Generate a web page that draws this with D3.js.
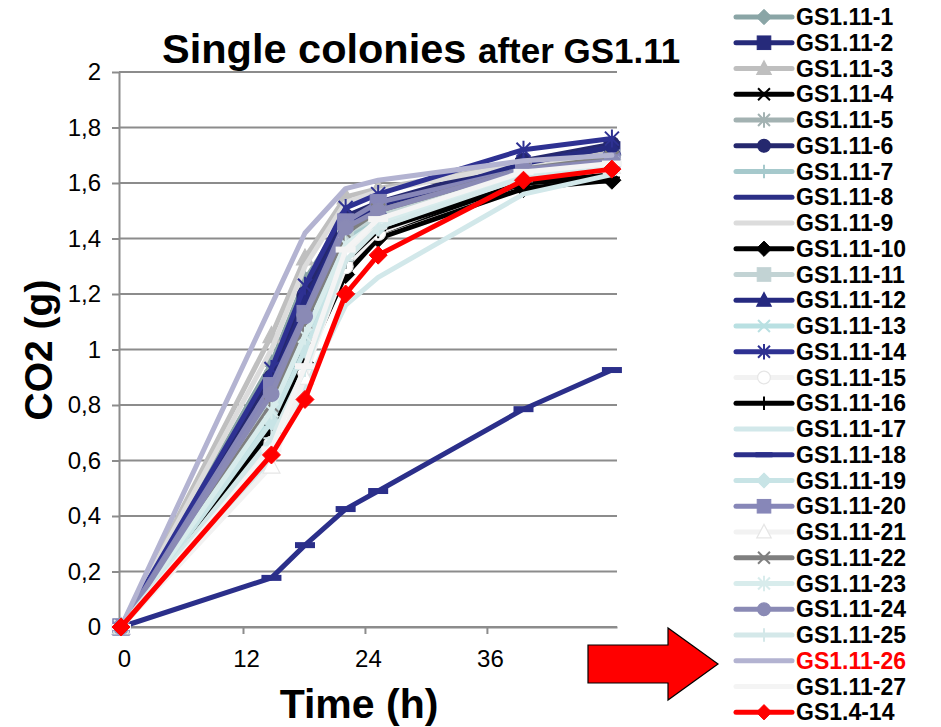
<!DOCTYPE html>
<html>
<head>
<meta charset="utf-8">
<script src="https://cdn.jsdelivr.net/npm/d3@7"></script>
<style>
  html, body { margin: 0; padding: 0; background: #ffffff; }
  svg { display: block; font-family: "Liberation Sans", Arial, Helvetica, sans-serif; }
</style>
</head>
<body>
<svg id="chart" width="941" height="727"></svg>
<script>
// Sampling times (h)
const times = [0, 14.8, 18.1, 22.1, 25.3, 39.6, 48.3];

// Cumulative CO2 released (g) per strain
const gs1_11_1  = [0, 0.95, 1.25, 1.48, 1.52, 1.66, 1.70];
const gs1_11_2  = [0, 0.88, 1.18, 1.45, 1.50, 1.66, 1.72];
const gs1_11_3  = [0, 1.05, 1.33, 1.55, 1.58, 1.67, 1.71];
const gs1_11_4  = [0, 0.72, 0.98, 1.30, 1.42, 1.60, 1.63];
const gs1_11_5  = [0, 0.90, 1.22, 1.47, 1.52, 1.66, 1.69];
const gs1_11_6  = [0, 0.90, 1.20, 1.48, 1.53, 1.68, 1.74];
const gs1_11_7  = [0, 0.80, 1.10, 1.40, 1.47, 1.64, 1.68];
const gs1_11_8  = [0, 0.85, 1.15, 1.44, 1.50, 1.67, 1.73];
const gs1_11_9  = [0, 1.00, 1.30, 1.53, 1.57, 1.67, 1.70];
const gs1_11_10 = [0, 0.70, 0.95, 1.27, 1.40, 1.58, 1.61];
const gs1_11_11 = [0, 0.82, 1.12, 1.42, 1.48, 1.65, 1.69];
const gs1_11_12 = [0, 0.87, 1.17, 1.46, 1.51, 1.67, 1.73];
const gs1_11_13 = [0, 0.76, 1.02, 1.36, 1.44, 1.62, 1.66];
const gs1_11_14 = [0, 0.93, 1.23, 1.51, 1.56, 1.72, 1.76];
const gs1_11_15 = [0, 0.66, 0.92, 1.30, 1.42, 1.62, 1.65];
const gs1_11_16 = [0, 0.73, 1.00, 1.32, 1.43, 1.60, 1.62];
const gs1_11_17 = [0, 0.60, 0.86, 1.16, 1.26, 1.56, 1.63];
const gs1_11_18 = [0, 0.177, 0.295, 0.425, 0.49, 0.785, 0.926];
const gs1_11_19 = [0, 0.74, 1.00, 1.34, 1.44, 1.63, 1.67];
const gs1_11_20 = [0, 0.87, 1.13, 1.46, 1.53, 1.65, 1.68];
const gs1_11_21 = [0, 0.58, 0.90, 1.35, 1.46, 1.63, 1.66];
const gs1_11_22 = [0, 0.80, 1.10, 1.42, 1.50, 1.65, 1.69];
const gs1_11_23 = [0, 0.78, 1.05, 1.38, 1.46, 1.63, 1.67];
const gs1_11_24 = [0, 0.84, 1.12, 1.44, 1.50, 1.65, 1.68];
const gs1_11_25 = [0, 0.68, 0.93, 1.32, 1.44, 1.62, 1.65];
const gs1_11_26 = [0, 1.16, 1.42, 1.58, 1.61, 1.68, 1.70];
const gs1_11_27 = [0, 0.64, 0.94, 1.36, 1.47, 1.64, 1.67];
const gs1_4_14  = [0, 0.62, 0.82, 1.20, 1.34, 1.61, 1.65];

const seriesNames = [
  "GS1.11-1", "GS1.11-2", "GS1.11-3", "GS1.11-4", "GS1.11-5", "GS1.11-6", "GS1.11-7",
  "GS1.11-8", "GS1.11-9", "GS1.11-10", "GS1.11-11", "GS1.11-12", "GS1.11-13", "GS1.11-14",
  "GS1.11-15", "GS1.11-16", "GS1.11-17", "GS1.11-18", "GS1.11-19", "GS1.11-20", "GS1.11-21",
  "GS1.11-22", "GS1.11-23", "GS1.11-24", "GS1.11-25", "GS1.11-26", "GS1.11-27", "GS1.4-14"
];
const seriesValues = [
  gs1_11_1, gs1_11_2, gs1_11_3, gs1_11_4, gs1_11_5, gs1_11_6, gs1_11_7,
  gs1_11_8, gs1_11_9, gs1_11_10, gs1_11_11, gs1_11_12, gs1_11_13, gs1_11_14,
  gs1_11_15, gs1_11_16, gs1_11_17, gs1_11_18, gs1_11_19, gs1_11_20, gs1_11_21,
  gs1_11_22, gs1_11_23, gs1_11_24, gs1_11_25, gs1_11_26, gs1_11_27, gs1_4_14
];
const seriesColors = [
  "#8aa5a6", "#262a7a", "#bfbfbf", "#000000", "#a3b2b2", "#25286e", "#a6c9cc",
  "#2b2f86", "#dcdcdc", "#000000", "#c2d3d4", "#262a80", "#b9e0e2", "#2e3192",
  "#f2f2f2", "#000000", "#d2e8ea", "#2b2f8a", "#c8e4e6", "#8787b8", "#f2f2f2",
  "#7f7f7f", "#d8ecec", "#8a8ab5", "#d4e8e9", "#b3b3d1", "#f4f4f4", "#ff0000"
];
const seriesMarkers = [
  "diamond", "square", "triangle", "x", "asterisk", "circle", "plus",
  "none", "none", "diamond", "square", "triangle", "x", "asterisk",
  "circle", "plus", "none", "dash", "diamond", "square", "triangle",
  "x", "asterisk", "circle", "plus", "none", "dash", "diamond"
];
const legendTextColors = seriesNames.map(n => n === "GS1.11-26" ? "#ff0000" : "#000000");

const yTicks = [0, 0.2, 0.4, 0.6, 0.8, 1, 1.2, 1.4, 1.6, 1.8, 2];
const xTicks = [0, 12, 24, 36];

const titleMain = "Single colonies";
const titleSub = "after GS1.11";
const xTitle = "Time (h)";
const yTitle = "CO2 (g)";

// ---- layout ----
const svg = d3.select("#chart");
const plotLeft = 119, plotRight = 617, plotTop = 72, plotBottom = 627;

const x = d3.scaleLinear().domain([-0.2, 48.8]).range([plotLeft, plotRight]);
const y = d3.scaleLinear().domain([0, 2]).range([plotBottom, plotTop]);

const gridColor = "#8c8c8c";
const fmtComma = v => String(+v.toFixed(1)).replace(".", ",");

// horizontal gridlines
svg.append("g")
  .selectAll("line")
  .data(yTicks)
  .join("line")
  .attr("x1", plotLeft).attr("x2", plotRight)
  .attr("y1", d => y(d)).attr("y2", d => y(d))
  .attr("stroke", gridColor).attr("stroke-width", 2);

// y axis
const yAxis = svg.append("g")
  .attr("transform", `translate(${plotLeft},0)`)
  .call(d3.axisLeft(y).tickValues(yTicks).tickFormat(fmtComma).tickSize(7).tickSizeOuter(0).tickPadding(11));
yAxis.select(".domain").attr("stroke", gridColor).attr("stroke-width", 2);
yAxis.selectAll(".tick line").attr("stroke", gridColor).attr("stroke-width", 2);
yAxis.selectAll(".tick text").attr("font-size", 24).attr("fill", "#000")
  .attr("font-family", "'Liberation Sans', Arial, sans-serif");

// x axis
const xAxis = svg.append("g")
  .attr("transform", `translate(0,${plotBottom})`)
  .call(d3.axisBottom(x).tickValues(xTicks).tickFormat(d3.format("d")).tickSize(7).tickSizeOuter(0).tickPadding(16));
xAxis.select(".domain").attr("stroke", gridColor).attr("stroke-width", 2);
xAxis.selectAll(".tick line").attr("stroke", gridColor).attr("stroke-width", 2);
xAxis.selectAll(".tick text").attr("font-size", 24).attr("fill", "#000")
  .attr("font-family", "'Liberation Sans', Arial, sans-serif")
  .attr("dx", 3);

// ---- markers ----
function drawMarker(g, type, cx, cy, color, s) {
  const k = s || 1;
  const pale = (color === "#f2f2f2" || color === "#f4f4f4");
  const fillFor = pale ? "#ffffff" : color;
  const strokeFor = pale ? "#e6e6e6" : color;
  switch (type) {
    case "diamond":
      g.append("path")
        .attr("d", `M${cx},${cy - 9 * k}L${cx + 9 * k},${cy}L${cx},${cy + 9 * k}L${cx - 9 * k},${cy}Z`)
        .attr("fill", fillFor).attr("stroke", strokeFor).attr("stroke-width", 1);
      break;
    case "square":
      g.append("rect")
        .attr("x", cx - 8 * k).attr("y", cy - 8 * k).attr("width", 16 * k).attr("height", 16 * k)
        .attr("fill", fillFor).attr("stroke", strokeFor).attr("stroke-width", 1);
      break;
    case "triangle":
      g.append("path")
        .attr("d", `M${cx},${cy - 9 * k}L${cx + 8.5 * k},${cy + 7 * k}L${cx - 8.5 * k},${cy + 7 * k}Z`)
        .attr("fill", fillFor).attr("stroke", strokeFor).attr("stroke-width", 1.2);
      break;
    case "circle":
      g.append("circle")
        .attr("cx", cx).attr("cy", cy).attr("r", 7.5 * k)
        .attr("fill", fillFor).attr("stroke", strokeFor).attr("stroke-width", 1.2);
      break;
    case "x":
      g.append("path")
        .attr("d", `M${cx - 7 * k},${cy - 7 * k}L${cx + 7 * k},${cy + 7 * k}M${cx + 7 * k},${cy - 7 * k}L${cx - 7 * k},${cy + 7 * k}`)
        .attr("stroke", color).attr("stroke-width", 2).attr("fill", "none");
      break;
    case "asterisk":
      g.append("path")
        .attr("d", `M${cx - 7 * k},${cy - 7 * k}L${cx + 7 * k},${cy + 7 * k}M${cx + 7 * k},${cy - 7 * k}L${cx - 7 * k},${cy + 7 * k}M${cx},${cy - 9 * k}L${cx},${cy + 9 * k}`)
        .attr("stroke", color).attr("stroke-width", 2).attr("fill", "none");
      break;
    case "plus":
      g.append("path")
        .attr("d", `M${cx - 8 * k},${cy}L${cx + 8 * k},${cy}M${cx},${cy - 8 * k}L${cx},${cy + 8 * k}`)
        .attr("stroke", color).attr("stroke-width", 2).attr("fill", "none");
      break;
    case "dash":
      g.append("rect")
        .attr("x", cx - 10 * k).attr("y", cy - 3 * k).attr("width", 20 * k).attr("height", 6 * k)
        .attr("fill", color);
      break;
    default:
      break;
  }
}

// ---- series ----
const line = d3.line().x((d, i) => x(times[i])).y(d => y(d));
const seriesLayer = svg.append("g");
seriesValues.forEach((vals, si) => {
  const g = seriesLayer.append("g");
  g.append("path")
    .datum(vals)
    .attr("d", line)
    .attr("fill", "none")
    .attr("stroke", seriesColors[si])
    .attr("stroke-width", 5)
    .attr("stroke-linejoin", "round")
    .attr("stroke-linecap", "round");
  vals.forEach((v, i) => drawMarker(g, seriesMarkers[si], x(times[i]), y(v), seriesColors[si]));
});

// ---- titles ----
const title = svg.append("text")
  .attr("x", 162).attr("y", 63)
  .attr("font-weight", "bold").attr("fill", "#000");
title.append("tspan").attr("font-size", 41.5).text(titleMain + " ");
title.append("tspan").attr("font-size", 35).text(titleSub);

svg.append("text")
  .attr("x", 359).attr("y", 718)
  .attr("text-anchor", "middle")
  .attr("font-weight", "bold").attr("font-size", 41).attr("fill", "#000")
  .text(xTitle);

svg.append("text")
  .attr("transform", "translate(52,350) rotate(-90)")
  .attr("text-anchor", "middle")
  .attr("font-weight", "bold").attr("font-size", 39).attr("fill", "#000")
  .text(yTitle);

// ---- legend ----
const legend = svg.append("g");
seriesNames.forEach((name, i) => {
  const cy = 17 + i * 25.75;
  const row = legend.append("g");
  row.append("line")
    .attr("x1", 736).attr("x2", 792).attr("y1", cy).attr("y2", cy)
    .attr("stroke", seriesColors[i]).attr("stroke-width", 5).attr("stroke-linecap", "round");
  drawMarker(row, seriesMarkers[i], 764, cy, seriesColors[i], 0.85);
  row.append("text")
    .attr("x", 796).attr("y", cy + 8)
    .attr("font-weight", "bold").attr("font-size", 23)
    .attr("fill", legendTextColors[i])
    .text(name);
});

// ---- pointer arrow ----
const arrowPts = [[588, 645], [668, 645], [668, 628], [718, 664], [668, 700], [668, 683], [588, 683]];
svg.append("path")
  .attr("d", d3.line()(arrowPts) + "Z")
  .attr("fill", "#ff0000").attr("stroke", "#000").attr("stroke-width", 1.2);
</script>
</body>
</html>
